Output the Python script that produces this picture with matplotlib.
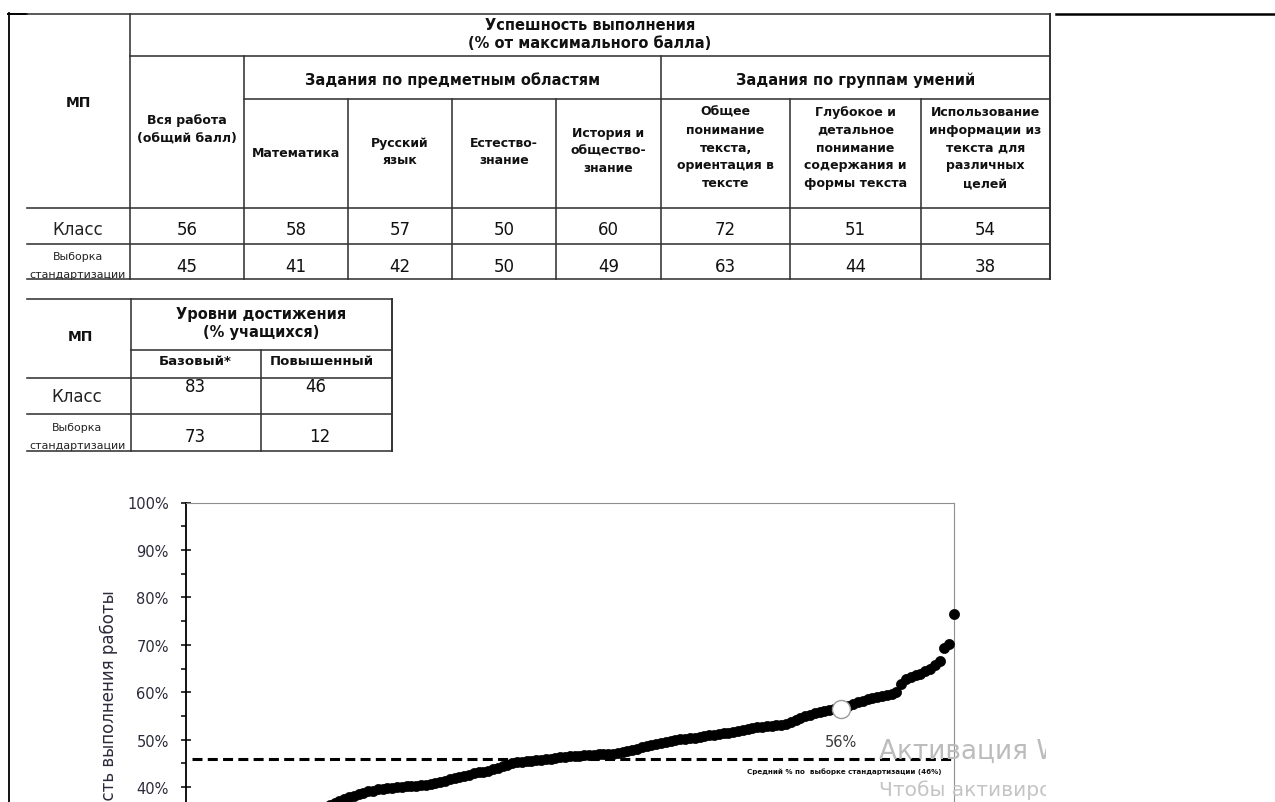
import matplotlib
matplotlib.use('Agg')
import matplotlib.pyplot as plt
from matplotlib.patches import Rectangle

plt.rcParams['font.family'] = ['DejaVu Sans']
plt.rcParams['lines.scale_dashes'] = False

# ---------------- data ----------------
main_title = ['Успешность выполнения', '(% от максимального балла)']
group_titles = ['Задания по предметным областям', 'Задания по группам умений']
main_columns = ['Вся работа\n(общий балл)', 'Математика', 'Русский\nязык', 'Естество-\nзнание',
                'История и\nобщество-\nзнание',
                'Общее\nпонимание\nтекста,\nориентация в\nтексте',
                'Глубокое и\nдетальное\nпонимание\nсодержания и\nформы текста',
                'Использование\nинформации из\nтекста для\nразличных\nцелей']
class_values = [56, 58, 57, 50, 60, 72, 51, 54]
sample_values = [45, 41, 42, 50, 49, 63, 44, 38]
row_labels = ['Класс', 'Выборка\nстандартизации']
corner_label = 'МП'

level_title = ['Уровни достижения', '(% учащихся)']
level_columns = ['Базовый*', 'Повышенный']
level_class = [83, 46]
level_sample = [73, 12]

# sorted results of the standardisation sample (% of max score)
sample_scores = [5, 9, 12, 14, 16, 18, 19, 20, 21, 22,
                 23, 24, 25, 26, 27, 27.5, 28, 29, 29.5, 30,
                 31, 31.5, 32, 32.5, 33, 33.5, 34, 34.5, 35.3, 36.2,
                 36.6, 37.0, 37.5, 37.9, 38.2, 38.5, 38.8, 39.1, 39.3, 39.6,
                 39.7, 39.8, 39.9, 40.0, 40.1, 40.2, 40.3, 40.3, 40.4, 40.5,
                 40.6, 40.8, 41.1, 41.4, 41.7, 41.9, 42.1, 42.3, 42.6, 42.9,
                 43.1, 43.3, 43.5, 43.8, 44.1, 44.4, 44.7, 45.0, 45.3, 45.4,
                 45.5, 45.6, 45.7, 45.8, 45.9, 46.0, 46.2, 46.3, 46.4, 46.5,
                 46.5, 46.6, 46.7, 46.7, 46.8, 46.9, 46.9, 47.0, 47.1, 47.3,
                 47.5, 47.7, 47.9, 48.1, 48.4, 48.7, 48.9, 49.1, 49.3, 49.5,
                 49.7, 49.9, 50.1, 50.2, 50.3, 50.4, 50.6, 50.8, 50.9, 51.1,
                 51.2, 51.4, 51.5, 51.7, 51.9, 52.1, 52.3, 52.4, 52.6, 52.7,
                 52.8, 52.9, 53.1, 53.2, 53.4, 53.7, 54.1, 54.5, 54.9, 55.3,
                 55.6, 55.8, 56.0, 56.2, 56.4, 56.6, 56.9, 57.2, 57.5, 57.9,
                 58.2, 58.5, 58.7, 59.0, 59.2, 59.4, 59.6, 60.0, 61.8, 62.7,
                 63.2, 63.6, 63.9, 64.4, 65.0, 65.7, 66.6, 69.3, 70.2, 76.6]
class_score = 56.4
class_position = 136.5
sample_mean = 46
mean_label = 'Средний % по  выборке стандартизации (46%)'
y_label = 'Успешность выполнения работы'
y_ticks = [40, 50, 60, 70, 80, 90, 100]          # ticks visible in the picture
y_tick_labels = ['%d%%' % v for v in y_ticks]
y_minor_ticks = [35, 45, 55, 65, 75, 85, 95]

# ---------------- figure ----------------
W, H = 1275, 803
fig = plt.figure(figsize=(W / 100, H / 100), dpi=100)
fig.patch.set_facecolor('white')

bg = fig.add_axes([0, 0, 1, 1], zorder=0)
bg.set_xlim(0, W)
bg.set_ylim(H, 0)
bg.axis('off')

LC = '#333333'


def hline(y, x0, x1, lw=1.15, c=LC):
    bg.plot([x0, x1], [y, y], color=c, lw=lw, solid_capstyle='projecting')


def vline(x, y0, y1, lw=1.15, c=LC):
    bg.plot([x, x], [y0, y1], color=c, lw=lw, solid_capstyle='projecting')


def txt(x, y, s, size, bold=False, color='#111111', **kw):
    bg.text(x, y, s, fontsize=size, fontweight='bold' if bold else 'normal',
            color=color, ha='center', va='center', **kw)


def lines_block(x, yc, s, size, step, bold=True):
    parts = s.split('\n')
    n = len(parts)
    for k, p in enumerate(parts):
        txt(x, yc + (k - (n - 1) / 2) * step, p, size, bold)


# page border pieces
vline(9, 14, H, lw=1.3, c='black')
hline(14.5, 8, 27, lw=1.4, c='black')
hline(15, 1056, W, lw=1.8, c='black')

# ---- main table ----
cols = [27, 130, 244, 348, 452, 556, 661, 790, 921, 1050]
hline(15, 27, 1050)
hline(57, 130, 1050)
hline(100, 244, 1050)
for y in (209, 245, 280):
    hline(y, 27, 1050)
vline(130, 15, 280)
vline(244, 57, 280)
for x in (348, 452, 556, 790, 921):
    vline(x, 100, 280)
vline(661, 57, 280)
vline(1050, 15, 280, lw=1.4)

txt(78, 103, corner_label, 10, True)
txt(590, 26, main_title[0], 10.5, True)
txt(590, 44, main_title[1], 10.5, True)
txt(452.5, 80, group_titles[0], 10.5, True)
txt(855.5, 80, group_titles[1], 10.5, True)

head_y = [129.5, 153.5, 152, 152, 151, 148, 148, 148]
for i, name in enumerate(main_columns):
    xc = (cols[i + 1] + cols[i + 2]) / 2
    lines_block(xc, head_y[i], name, 9, 17.8)
    txt(xc, 230, str(class_values[i]), 12)
    txt(xc, 267, str(sample_values[i]), 12)

txt(78, 230, row_labels[0], 12, color='#222222')
r2 = row_labels[1].split('\n')
txt(78, 257, r2[0], 7.9, color='#222222')
txt(78, 275, r2[1], 7.9, color='#222222')

# ---- levels table ----
hline(299.5, 27, 391.5)
hline(351, 130.5, 391.5)
for y in (379, 415, 451.5):
    hline(y, 27, 391.5)
vline(130.5, 299.5, 451.5)
vline(260.5, 351, 451.5)
vline(391.5, 299.5, 451.5, lw=1.4)

txt(80, 337, corner_label, 10, True)
txt(261, 315, level_title[0], 10.5, True)
txt(261, 333, level_title[1], 10.5, True)
txt(195.5, 362, level_columns[0], 9.5, True)
txt(322, 362, level_columns[1], 9.5, True)
txt(195.5, 387, str(level_class[0]), 12)
txt(316, 387, str(level_class[1]), 12)
txt(195.5, 437, str(level_sample[0]), 12)
txt(320, 437, str(level_sample[1]), 12)
txt(77, 397, row_labels[0], 12, color='#222222')
txt(77, 428, r2[0], 7.9, color='#222222')
txt(77, 446, r2[1], 7.9, color='#222222')

# ---- chart ----
x_left, x_right, y_top, y_zero = 185.7, 954.0, 503.5, 978.0
ax = fig.add_axes([x_left / W, (H - y_zero) / H, (x_right - x_left) / W, (y_zero - y_top) / H], zorder=1)
ax.set_facecolor('none')
n = len(sample_scores)
idx = list(range(1, n + 1))
ax.set_xlim(0, n)
ax.set_ylim(0, 100)

ax.axhline(sample_mean, xmin=0.008, xmax=1, color='black', lw=2.2, dashes=(7.2, 3.8), zorder=2)
ax.plot(idx, sample_scores, 'o', color='black', ms=7.3, mec='black', mew=0.5, clip_on=False, zorder=3)
ax.plot([class_position], [class_score], 'o', ms=13, mfc='white', mec='#9a9a9a', mew=1.0, zorder=4)
ax.annotate('%d%%' % round(class_score), xy=(class_position, class_score), xytext=(0, -32),
            textcoords='offset pixels', ha='center', va='center', fontsize=10.5, color='#3c3c3c')
ax.annotate(mean_label, xy=(0.857, sample_mean), xycoords=('axes fraction', 'data'), xytext=(0, -12),
            textcoords='offset pixels', ha='center', va='center', fontsize=5.1, fontweight='bold',
            color='#111111')

ax.set_yticks(y_ticks)
ax.set_yticklabels(y_tick_labels)
ax.set_yticks(y_minor_ticks, minor=True)
ax.tick_params(axis='y', which='major', direction='inout', length=7.2, width=1.1, pad=8.6,
               labelsize=10.5, labelcolor='#2b2b3b', color='black')
ax.tick_params(axis='y', which='minor', direction='out', length=3.6, width=1.1, color='black')
ax.set_xticks([])
ax.spines['left'].set_color('black')
ax.spines['left'].set_linewidth(1.3)
for s in ('top', 'right'):
    ax.spines[s].set_color('#8f8f8f')
    ax.spines[s].set_linewidth(0.8)
ax.spines['bottom'].set_color('#8f8f8f')

bg.text(109, 590, y_label, rotation=90, ha='center', va='top', fontsize=12, color='#2b2b3b')

# ---- overlay (system watermark) ----
ov = fig.add_axes([0, 0, 1, 1], zorder=5)
ov.set_xlim(0, W)
ov.set_ylim(H, 0)
ov.axis('off')
clip = Rectangle((0, 0), 1046, H, transform=ov.transData)
t1 = ov.text(879, 752, 'Активация Windows', fontsize=19, color='#bcbcbc', ha='left', va='center')
t2 = ov.text(879, 790, 'Чтобы активировать Windows, перейдите в раздел', fontsize=14.5,
             color='#c4c4c4', ha='left', va='center')
for t in (t1, t2):
    t.set_clip_on(True)
    t.set_clip_path(clip)

fig.savefig('out.png', dpi=100)
